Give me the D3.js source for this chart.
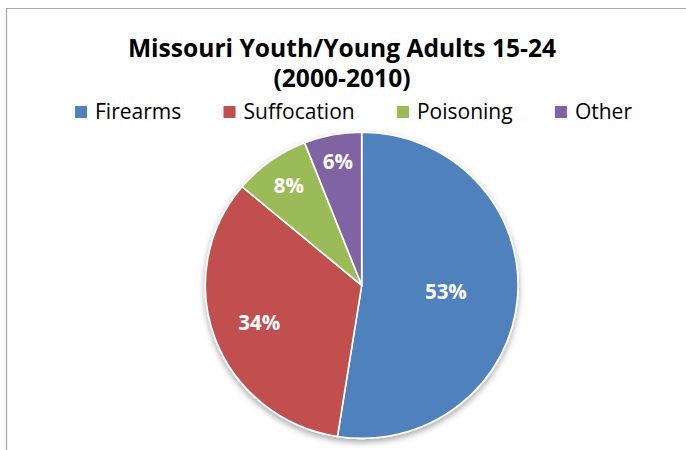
<!DOCTYPE html>
<html>
<head>
<meta charset="utf-8">
<script src="https://cdn.jsdelivr.net/npm/d3@7"></script>
<style>
  html, body { margin: 0; padding: 0; background: #fff; }
  svg { display: block; font-family: "Open Sans", "Liberation Sans", sans-serif; }
</style>
</head>
<body>
<svg id="chart" width="686" height="450"></svg>
<script>
// Share of deaths by method, Missouri youth / young adults aged 15-24, 2000-2010
const categories = ["Firearms", "Suffocation", "Poisoning", "Other"];
const percents = [53, 34, 8, 6];
const colors = ["#4f81bd", "#c0504d", "#9bbb59", "#8064a2"];
const titleLines = ["Missouri Youth/Young Adults 15-24", "(2000-2010)"];

// Layout
const W = 686, H = 450;
const cx = 361.7, cy = 285.3;
const radius = 153;
const stretchX = 1.022;              // slight horizontal aspect of the plot area
const labelRadiusFrac = [0.54, 0.70, 0.80, 0.82];

const svg = d3.select("#chart");

svg.append("rect").attr("width", W).attr("height", H).attr("fill", "#fff");

// chart frame (continues past the right and bottom edges)
svg.append("path")
  .attr("d", `M6.5,${H + 5} L6.5,8.5 L${W + 5},8.5`)
  .attr("fill", "none")
  .attr("stroke", "#a6a6a6")
  .attr("stroke-width", 1.2);

// Title
svg.append("text")
  .attr("text-anchor", "middle")
  .attr("font-weight", "bold")
  .attr("font-size", 24.6)
  .attr("fill", "#000")
  .selectAll("tspan")
  .data(titleLines)
  .join("tspan")
  .attr("x", 342)
  .attr("y", (d, i) => 57 + i * 30)
  .text(d => d);

// Legend
const legend = svg.append("g").attr("font-size", 21).attr("fill", "#000");
const items = legend.selectAll("g").data(categories).join("g");
items.append("rect")
  .attr("width", 12).attr("height", 12)
  .attr("y", -13)
  .attr("fill", (d, i) => colors[i]);
items.append("text")
  .attr("x", 20)
  .attr("y", 0)
  .text(d => d);
let widths = [];
items.each(function () { widths.push(this.querySelector("text").getComputedTextLength() + 20); });
const legendSpan = 557;
const legendGap = (legendSpan - d3.sum(widths)) / (widths.length - 1);
let lx = 353.5 - legendSpan / 2;
items.attr("transform", (d, i) => {
  const t = `translate(${lx},119)`;
  lx += widths[i] + legendGap;
  return t;
});

// Pie
const pie = d3.pie().sort(null).value(d => d);
const arcs = pie(percents);
const arc = d3.arc().innerRadius(0).outerRadius(radius);

const defs = svg.append("defs");
const shadow = defs.append("filter").attr("id", "pieShadow")
  .attr("x", "-20%").attr("y", "-20%").attr("width", "140%").attr("height", "140%");
shadow.append("feDropShadow")
  .attr("dx", 0).attr("dy", 3)
  .attr("stdDeviation", 3)
  .attr("flood-color", "#000")
  .attr("flood-opacity", 0.35);

const pieG = svg.append("g")
  .attr("transform", `translate(${cx},${cy}) scale(${stretchX},1)`)
  .attr("filter", "url(#pieShadow)");

pieG.selectAll("path")
  .data(arcs)
  .join("path")
  .attr("d", arc)
  .attr("fill", (d, i) => colors[i])
  .attr("stroke", "#fff")
  .attr("stroke-width", 1.6)
  .attr("stroke-linejoin", "round");

// Percent labels
const labelG = svg.append("g").attr("transform", `translate(${cx},${cy})`);
labelG.selectAll("text")
  .data(arcs)
  .join("text")
  .attr("transform", (d, i) => {
    const r = radius * labelRadiusFrac[i];
    const c = d3.arc().innerRadius(r).outerRadius(r).centroid(d);
    return `translate(${c[0] * stretchX},${c[1]})`;
  })
  .attr("text-anchor", "middle")
  .attr("dy", "0.36em")
  .attr("font-size", 20.5)
  .attr("font-weight", "bold")
  .attr("fill", "#fff")
  .text(d => d.data + "%");
</script>
</body>
</html>
